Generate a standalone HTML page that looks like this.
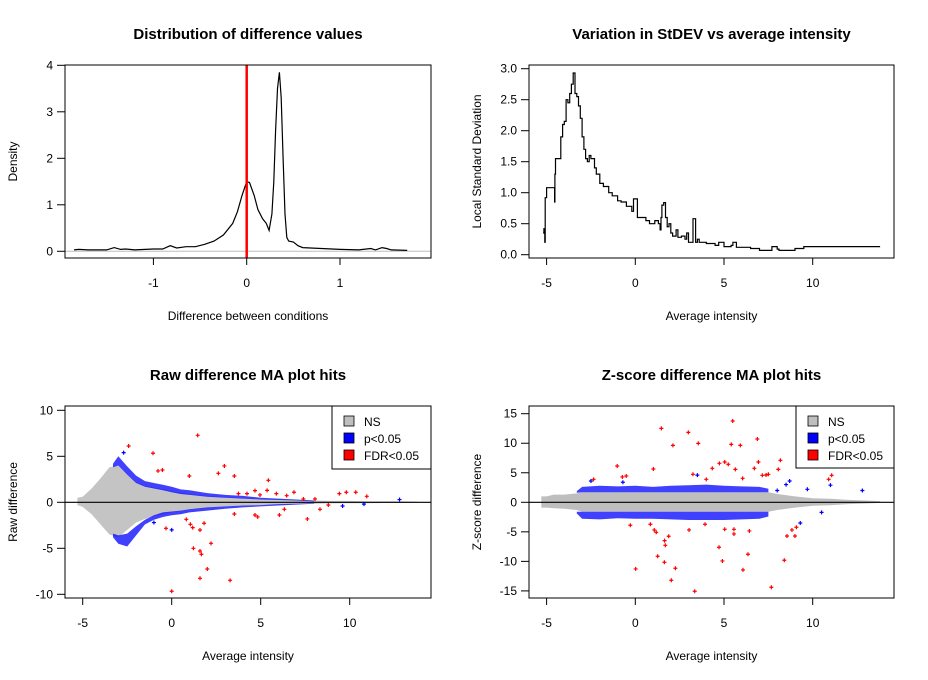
<!DOCTYPE html>
<html><head><meta charset="utf-8"><style>
html,body{margin:0;padding:0;background:#fff;}
svg{display:block;font-family:"Liberation Sans",Arial,sans-serif;}
</style></head><body>
<svg id="root" xmlns="http://www.w3.org/2000/svg" width="928" height="680" viewBox="0 0 928 680">
<rect width="928" height="680" fill="#fff"/>
</svg>
<script>
// ---------- Panel 1: density ----------
const densX=[-1.85,-1.8,-1.7,-1.5,-1.42,-1.35,-1.3,-1.2,-1.0,-0.9,-0.82,-0.75,-0.65,-0.55,-0.45,-0.35,-0.25,-0.15,-0.1,-0.05,0,0.03,0.08,0.12,0.17,0.21,0.24,0.27,0.29,0.31,0.33,0.35,0.37,0.39,0.41,0.43,0.45,0.5,0.55,0.6,0.8,1.0,1.2,1.33,1.38,1.45,1.5,1.55,1.72];
const densY=[0.03,0.04,0.03,0.03,0.08,0.04,0.05,0.03,0.05,0.05,0.12,0.07,0.1,0.1,0.15,0.22,0.35,0.6,0.85,1.2,1.5,1.48,1.2,0.9,0.7,0.6,0.45,0.8,1.5,2.6,3.5,3.85,3.3,2.0,0.8,0.3,0.22,0.2,0.12,0.08,0.06,0.04,0.03,0.06,0.03,0.08,0.06,0.03,0.02];
const densXTicks=[-1,0,1];
const densYTicks=[0,1,2,3,4];
// ---------- Panel 2: local SD ----------
const sdX=[-5.2,-5.15,-5.1,-5.08,-5.0,-4.6,-4.55,-4.53,-4.5,-4.3,-4.2,-4.1,-4.0,-3.9,-3.8,-3.7,-3.6,-3.5,-3.4,-3.3,-3.2,-3.1,-3.0,-2.9,-2.8,-2.7,-2.6,-2.5,-2.3,-2.2,-2.0,-1.8,-1.5,-1.3,-1.0,-0.8,-0.5,-0.2,-0.1,0.1,0.12,0.3,0.6,0.8,1.1,1.3,1.4,1.45,1.5,1.6,1.7,1.8,1.9,2.0,2.1,2.3,2.4,2.6,2.8,2.9,3.0,3.2,3.25,3.35,3.4,3.5,3.6,4.0,4.5,4.7,5.0,5.4,5.5,5.7,6.0,6.5,7.0,7.6,7.7,8.0,8.1,9.0,9.5,9.8,13.8];
const sdY=[0.35,0.42,0.2,0.92,1.08,1.08,0.85,1.3,1.55,1.55,1.9,2.1,2.15,2.5,2.45,2.6,2.75,2.93,2.6,2.55,2.4,2.2,1.9,1.7,1.55,1.5,1.6,1.55,1.4,1.3,1.15,1.1,1.0,0.95,0.87,0.85,0.78,0.7,0.9,0.9,0.6,0.6,0.55,0.5,0.55,0.5,0.4,0.6,0.8,0.84,0.6,0.45,0.5,0.35,0.3,0.4,0.28,0.3,0.25,0.35,0.2,0.2,0.58,0.58,0.2,0.25,0.2,0.18,0.15,0.2,0.13,0.15,0.2,0.12,0.12,0.1,0.07,0.07,0.13,0.09,0.07,0.1,0.13,0.13,0.13];
const intXTicks=[-5,0,5,10];
const sdYTicks=[0,0.5,1,1.5,2,2.5,3];
const sdYLabels=["0.0","0.5","1.0","1.5","2.0","2.5","3.0"];
// ---------- Panel 3: raw MA ----------
const rawEnvX=[-5.3,-5,-4.5,-4,-3.5,-3,-2.5,-2,-1.5,-1,-0.5,0,1,2,3,4,5,6,7,8,9,10,11,12,13,13.8];
const rawGrayU=[0.5,0.6,1.5,2.6,3.8,4.0,3.0,2.2,1.8,1.6,1.4,1.2,0.9,0.7,0.55,0.45,0.35,0.3,0.25,0.2,0.15,0.15,0.1,0.1,0.1,0.08];
const rawGrayL=[-0.3,-0.5,-1.3,-2.4,-3.5,-3.8,-3.0,-2.2,-1.8,-1.5,-1.3,-1.1,-0.8,-0.6,-0.45,-0.35,-0.3,-0.25,-0.2,-0.15,-0.12,-0.1,-0.1,-0.08,-0.08,-0.05];
const rawBlueX=[-3.3,-3,-2.5,-2,-1.5,-1,-0.5,0,0.5,1,2,3,4,5,6,7,8];
const rawBlueOutU=[4.2,5.0,3.9,2.9,2.3,2.1,1.9,1.7,1.4,1.3,1.0,0.8,0.7,0.5,0.4,0.3,0.2];
const rawBlueInU=[3.8,4.0,3.0,2.1,1.7,1.5,1.3,1.1,0.9,0.8,0.6,0.5,0.4,0.3,0.25,0.2,0.1];
const rawBlueOutL=[-3.8,-4.5,-4.8,-3.6,-2.4,-1.9,-1.6,-1.4,-1.3,-1.1,-0.9,-0.7,-0.55,-0.45,-0.35,-0.25,-0.15];
const rawBlueInL=[-3.4,-3.6,-3.4,-2.6,-1.9,-1.4,-1.1,-1.0,-0.9,-0.75,-0.55,-0.45,-0.35,-0.3,-0.2,-0.15,-0.1];
const rawRedX=[-2.42,-1.05,1.46,-0.77,-0.52,0.99,2.96,2.62,3.52,5.43,4.68,5.36,5.88,4.23,3.75,4.96,6.87,6.46,9.81,10.34,9.42,10.96,8.05,7.40,8.80,8.33,7.62,6.05,3.52,4.68,4.83,6.33,-0.32,0.82,1.05,1.18,1.82,1.59,2.21,1.22,1.59,1.67,2.0,1.59,3.28,0];
const rawRedY=[6.12,5.33,7.28,3.41,3.51,2.86,3.95,3.15,2.86,2.39,1.27,1.30,0.94,0.94,0.94,0.80,1.09,0.72,1.09,1.09,0.94,0.65,0.36,0.36,-0.29,-0.76,-1.81,-1.38,-1.27,-1.38,-1.59,-0.76,-2.83,-1.85,-2.39,-2.75,-2.28,-3.01,-4.46,-5.0,-5.29,-5.65,-7.25,-8.26,-8.48,-9.67];
const rawBlueOutX=[0,-1.0,12.8,10.8,9.6,-2.7];
const rawBlueOutY=[-3.0,-2.2,0.3,-0.2,-0.4,5.4];
const rawYTicks=[-10,-5,0,5,10];
// ---------- Panel 4: Z-score MA ----------
const zEnvX=[-5.3,-5.0,-4.6,-4,-3.3,-3,-2,0,2,4,6,7.5,8,9,10,11,12,13,13.8];
const zGrayU=[1.0,1.0,1.3,1.3,1.5,1.7,1.7,1.7,1.7,1.7,1.7,1.7,1.4,1.0,0.7,0.6,0.4,0.3,0.2];
const zGrayL=[-0.9,-0.9,-1.0,-1.1,-1.3,-1.6,-1.6,-1.6,-1.6,-1.6,-1.6,-1.6,-1.3,-0.9,-0.6,-0.5,-0.3,-0.2,-0.1];
const zBlueX=[-3.3,-3,-2,-1,0,1,2,3,4,5,6,7,7.5];
const zBlueOutU=[1.9,2.6,2.8,2.7,2.8,2.6,2.8,2.9,3.0,2.8,2.7,2.6,2.3];
const zBlueOutL=[-1.9,-2.8,-2.9,-2.7,-2.8,-2.8,-2.9,-3.0,-3.0,-3.0,-2.9,-2.8,-2.4];
const zRedX=[1.47,2.99,5.49,2.12,3.55,5.41,5.92,6.88,-1.02,1.02,-0.73,-0.51,-2.35,3.25,4.0,4.34,4.74,5.04,5.24,5.64,6.05,6.71,6.94,7.16,7.37,7.5,8.18,8.06,10.9,11.07,-0.28,0.85,0.02,1.07,1.18,1.65,1.69,1.88,1.26,1.64,2.26,2.03,3.35,3.03,3.93,4.72,4.91,5.04,5.56,5.56,6.43,6.35,6.07,7.67,8.4,8.55,8.83,9.0,9.08];
const zRedY=[12.52,11.84,13.76,9.64,9.98,9.81,9.64,10.72,6.15,5.64,4.29,4.46,3.89,4.74,3.89,5.75,6.6,6.82,6.43,5.58,4.06,5.75,6.82,4.57,4.62,4.74,7.11,5.58,3.89,4.57,-3.89,-3.72,-11.28,-4.68,-5.08,-6.49,-7.28,-5.75,-9.14,-10.15,-11.17,-13.2,-15.06,-4.68,-3.72,-7.61,-9.93,-4.57,-4.57,-5.36,-4.85,-8.8,-11.45,-14.38,-9.81,-5.7,-4.68,-5.7,-4.23];
const zBlueOutX=[12.8,11.0,9.7,8.7,8.5,8.0,10.5,9.3,-2.5,-0.7,3.5];
const zBlueOutY=[2.0,2.9,2.2,3.6,3.0,2.0,-1.7,-3.5,3.6,3.4,4.6];
const zYTicks=[-15,-10,-5,0,5,10,15];
const legendLabels=["NS","p<0.05","FDR<0.05"];
const legendColors=["#bebebe","#0000ff","#ff0000"];

const NS="http://www.w3.org/2000/svg";
const root=document.getElementById('root');
function mk(tag,attrs,parent){const e=document.createElementNS(NS,tag);for(const k in attrs)e.setAttribute(k,attrs[k]);(parent||root).appendChild(e);return e;}
function lin(d0,d1,r0,r1){return v=>r0+(v-d0)*(r1-r0)/(d1-d0);}

function panel(name,box,sx,sy,xt,xl,yt,yl,title,xtitle,ytitle){
  const g=mk('g',{});
  
  
  const t=mk('text',{x:(box[0]+box[2])/2,y:box[1]-26,'text-anchor':'middle','font-size':'15','font-weight':'bold',fill:'#000'},g);
  t.textContent=title;
  
  
  xt.forEach((v,i)=>{
    const x=sx(v);
    const tk=mk('line',{x1:x,x2:x,y1:box[3],y2:box[3]+7,stroke:'#000','stroke-width':1},g);
    
    
    const tl=mk('text',{x:x,y:box[3]+29,'text-anchor':'middle','font-size':'12',fill:'#000'},g);
    tl.textContent=xl[i];
    
    
  });
  yt.forEach((v,i)=>{
    const y=sy(v);
    const tk=mk('line',{x1:box[0]-8,x2:box[0],y1:y,y2:y,stroke:'#000','stroke-width':1},g);
    
    
    const tl=mk('text',{x:box[0]-12,y:y+4,'text-anchor':'end','font-size':'12',fill:'#000'},g);
    tl.textContent=yl[i];
    
    
  });
  const xa=mk('text',{x:(box[0]+box[2])/2,y:box[3]+62,'text-anchor':'middle','font-size':'12',fill:'#000'},g);
  xa.textContent=xtitle;
  
  
  const cy=(box[1]+box[3])/2, cx=box[0]-48;
  const ya=mk('text',{x:cx,y:cy,'text-anchor':'middle','font-size':'12',fill:'#000',transform:`rotate(-90 ${cx} ${cy})`},g);
  ya.textContent=ytitle;
  
  
  const cl='clip-'+name;
  const cp=mk('clipPath',{id:cl},g);
  mk('rect',{x:box[0],y:box[1],width:box[2]-box[0],height:box[3]-box[1]},cp);
  const plot=mk('g',{'clip-path':`url(#${cl})`},g);
  
  
  return {g,plot,finish(){const b=mk('rect',{x:box[0],y:box[1],width:box[2]-box[0],height:box[3]-box[1],fill:'none',stroke:'#000','stroke-width':1},g);}};
}
function band(plot,sx,sy,xs,up,lo,fill,op,name){
  let d='M'+xs.map((x,i)=>sx(x).toFixed(1)+','+sy(up[i]).toFixed(1)).join('L');
  for(let i=xs.length-1;i>=0;i--)d+='L'+sx(xs[i]).toFixed(1)+','+sy(lo[i]).toFixed(1);
  const p=mk('path',{d:d+'Z',fill:fill,'fill-opacity':op},plot);
  
  
}
function crosses(plot,sx,sy,xs,ys,col,name){
  xs.forEach((x,i)=>{
    const px=sx(x),py=sy(ys[i]);
    const c=mk('path',{d:`M${px-2},${py}h4M${px},${py-2}v4`,stroke:col,'stroke-width':1.2},plot);
    
    
  });
}
function legend(g,x0,y0,x1,y1){
  const lg=mk('g',{},g);
  
  
  mk('rect',{x:x0,y:y0,width:x1-x0,height:y1-y0,fill:'#fff',stroke:'#000'},lg);
  legendLabels.forEach((l,i)=>{
    const yy=y0+15+i*17;
    const e=mk('g',{},lg);
    
    
    mk('rect',{x:x0+12,y:yy-5,width:10,height:10,fill:legendColors[i],stroke:'#000','stroke-width':0.8},e);
    const t=mk('text',{x:x0+32,y:yy+5,'font-size':'12',fill:'#000'},e);
    t.textContent=l;
  });
}

// Panel 1
{
  const box=[65,65,431,258];
  const sx=lin(0,1,246.7,340), sy=lin(0,4,251.3,65.3);
  const P=panel('density-panel',box,sx,sy,densXTicks,densXTicks.map(String),densYTicks,densYTicks.map(String),'Distribution of difference values','Difference between conditions','Density');
  const base=mk('line',{x1:box[0],x2:box[2],y1:sy(0),y2:sy(0),stroke:'#bebebe'},P.plot);
  
  
  const ln=mk('polyline',{points:densX.map((x,i)=>sx(x).toFixed(1)+','+sy(densY[i]).toFixed(1)).join(' '),fill:'none',stroke:'#000','stroke-width':1.2},P.plot);
  
  
  const rl=mk('line',{x1:sx(0),x2:sx(0),y1:box[1],y2:box[3],stroke:'#ff0000','stroke-width':2.5},P.plot);
  
  
  P.finish();
}
// Panel 2
{
  const box=[529,65,894,258];
  const sx=lin(0,5,635.3,724), sy=lin(0,3,254.7,68.7);
  const P=panel('sd-panel',box,sx,sy,intXTicks,intXTicks.map(String),sdYTicks,sdYLabels,'Variation in StDEV vs average intensity','Average intensity','Local Standard Deviation');
  let d='M'+sx(sdX[0]).toFixed(1)+','+sy(sdY[0]).toFixed(1);
  for(let i=1;i<sdX.length;i++){d+='H'+sx(sdX[i]).toFixed(1)+'V'+sy(sdY[i]).toFixed(1);}
  const s=mk('path',{d:d,fill:'none',stroke:'#000','stroke-width':1.2},P.plot);
  
  
  P.finish();
}
// Panel 3
{
  const box=[65,406,431,598];
  const sx=lin(0,5,171.7,260.7), sy=lin(0,10,502.3,410.3);
  const P=panel('raw-ma-panel',box,sx,sy,intXTicks,intXTicks.map(String),rawYTicks,rawYTicks.map(String),'Raw difference MA plot hits','Average intensity','Raw difference');
  band(P.plot,sx,sy,rawEnvX,rawGrayU,rawGrayL,'#bebebe',0.9,'ns-points');
  band(P.plot,sx,sy,rawBlueX,rawBlueOutU,rawBlueInU,'#0000ff',0.75,'p05-upper-band');
  band(P.plot,sx,sy,rawBlueX,rawBlueInL,rawBlueOutL,'#0000ff',0.75,'p05-lower-band');
  crosses(P.plot,sx,sy,rawBlueOutX,rawBlueOutY,'#0000ff','p05-point');
  const z=mk('line',{x1:box[0],x2:box[2],y1:sy(0),y2:sy(0),stroke:'#000','stroke-width':1.2},P.plot);
  
  
  crosses(P.plot,sx,sy,rawRedX,rawRedY,'#ff0000','fdr-point');
  legend(P.g,332,406,431,469);
  P.finish();
}
// Panel 4
{
  const box=[529,406,894,598];
  const sx=lin(0,5,635.3,724), sy=lin(0,15,502.3,413.7);
  const P=panel('z-ma-panel',box,sx,sy,intXTicks,intXTicks.map(String),zYTicks,zYTicks.map(String),'Z-score difference MA plot hits','Average intensity','Z-score difference');
  band(P.plot,sx,sy,zEnvX,zGrayU,zGrayL,'#bebebe',1,'ns-points');
  band(P.plot,sx,sy,zBlueX,zBlueOutU,zBlueOutU.map(v=>Math.min(1.7,v-0.3)),'#0000ff',0.75,'p05-upper-band');
  band(P.plot,sx,sy,zBlueX,zBlueOutL.map(v=>Math.max(-1.6,v+0.3)),zBlueOutL,'#0000ff',0.75,'p05-lower-band');
  crosses(P.plot,sx,sy,zBlueOutX,zBlueOutY,'#0000ff','p05-point');
  const z=mk('line',{x1:box[0],x2:box[2],y1:sy(0),y2:sy(0),stroke:'#000','stroke-width':1.2},P.plot);
  
  
  crosses(P.plot,sx,sy,zRedX,zRedY,'#ff0000','fdr-point');
  legend(P.g,796,406,894,468);
  P.finish();
}
</script>
</body></html>
